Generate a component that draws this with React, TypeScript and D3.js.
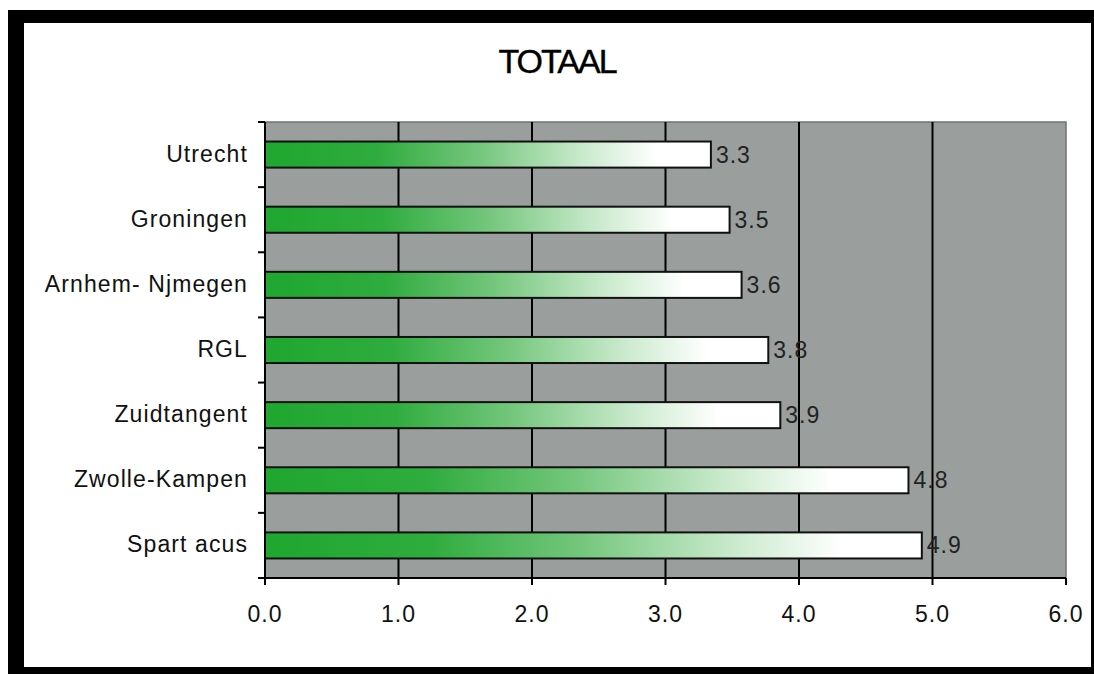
import React from "react";
import * as d3 from "d3";

const categories = ["Utrecht", "Groningen", "Arnhem- Njmegen", "RGL", "Zuidtangent", "Zwolle-Kampen", "Spart acus"];
const values = [3.34, 3.48, 3.57, 3.77, 3.86, 4.82, 4.92];
const xTicks = [0, 1, 2, 3, 4, 5, 6];
const title = "TOTAAL";

const W = 1094;
const H = 674;
const plot = { left: 265, right: 1066, top: 122, bottom: 578 };
const FONT = "'Liberation Sans', Arial, sans-serif";

export default function App() {
  const x = d3.scaleLinear().domain([0, 6]).range([plot.left, plot.right]);
  const yBand = d3.scaleBand<string>().domain(categories).range([plot.top, plot.bottom]).paddingInner(0.6).paddingOuter(0.3);
  const yEdge = d3.scaleLinear().domain([0, categories.length]).range([plot.top, plot.bottom]);
  const edges = d3.range(categories.length + 1);

  return (
    <svg width={W} height={H} style={{ position: "absolute", left: 0, top: 0, display: "block" }}>
      <defs>
        <linearGradient id="barGrad" x1="0" y1="0" x2="1" y2="0">
          <stop offset="0%" stopColor="#1fa72f" />
          <stop offset="25%" stopColor="#2fac3e" />
          <stop offset="48%" stopColor="#74c67c" />
          <stop offset="70%" stopColor="#c5e8c8" />
          <stop offset="88%" stopColor="#ffffff" />
          <stop offset="100%" stopColor="#ffffff" />
        </linearGradient>
      </defs>
      <rect x={0} y={0} width={W} height={H} fill="#ffffff" />
      {/* frame */}
      <rect x={8} y={10} width={W - 8} height={13} fill="#000" />
      <rect x={8} y={10} width={16} height={H - 10} fill="#000" />
      <rect x={8} y={667} width={W - 8} height={H - 667} fill="#000" />
      <rect x={1091} y={10} width={3} height={H - 10} fill="#000" />

      <text x={557} y={73} textAnchor="middle" fontFamily={FONT} fontSize={34} letterSpacing={-2} stroke="#000" strokeWidth={0.4} fill="#000">
        {title}
      </text>

      {/* plot background */}
      <rect x={plot.left} y={plot.top} width={plot.right - plot.left} height={plot.bottom - plot.top} fill="#9a9f9e" stroke="#6f7372" strokeWidth={1.5} />

      {/* gridlines */}
      {xTicks.slice(1, -1).map((t) => (
        <line key={"g" + t} x1={x(t)} x2={x(t)} y1={plot.top} y2={plot.bottom} stroke="#000" strokeWidth={2} />
      ))}

      {/* bars */}
      {categories.map((c, i) => (
        <rect
          key={c}
          x={x(0)}
          y={yBand(c)}
          width={x(values[i]) - x(0)}
          height={yBand.bandwidth()}
          fill="url(#barGrad)"
          stroke="#111"
          strokeWidth={2}
        />
      ))}

      {/* value labels */}
      {categories.map((c, i) => (
        <text
          key={"v" + c}
          x={x(values[i]) + 5}
          y={(yBand(c) as number) + yBand.bandwidth() / 2}
          dy="0.35em"
          fontFamily={FONT}
          fontSize={23}
          letterSpacing={1}
          fill="#222"
        >
          {values[i].toFixed(1)}
        </text>
      ))}

      {/* axes */}
      <line x1={plot.left} x2={plot.left} y1={plot.top} y2={plot.bottom} stroke="#000" strokeWidth={2} />
      <line x1={plot.left - 7} x2={plot.right} y1={plot.bottom} y2={plot.bottom} stroke="#000" strokeWidth={2} />
      {edges.map((e) => (
        <line key={"yt" + e} x1={plot.left - 7} x2={plot.left} y1={yEdge(e)} y2={yEdge(e)} stroke="#000" strokeWidth={2} />
      ))}
      {xTicks.map((t) => (
        <g key={"xt" + t}>
          <line x1={x(t)} x2={x(t)} y1={plot.bottom} y2={plot.bottom + 7} stroke="#000" strokeWidth={2} />
          <text x={x(t)} y={622} textAnchor="middle" fontFamily={FONT} fontSize={23} letterSpacing={1} fill="#111">
            {t.toFixed(1)}
          </text>
        </g>
      ))}

      {/* category labels */}
      {categories.map((c) => (
        <text
          key={"c" + c}
          x={248}
          y={(yBand(c) as number) + yBand.bandwidth() / 2 - 1}
          dy="0.35em"
          textAnchor="end"
          fontFamily={FONT}
          fontSize={23}
          letterSpacing={1.1}
          fill="#111"
        >
          {c}
        </text>
      ))}
    </svg>
  );
}
